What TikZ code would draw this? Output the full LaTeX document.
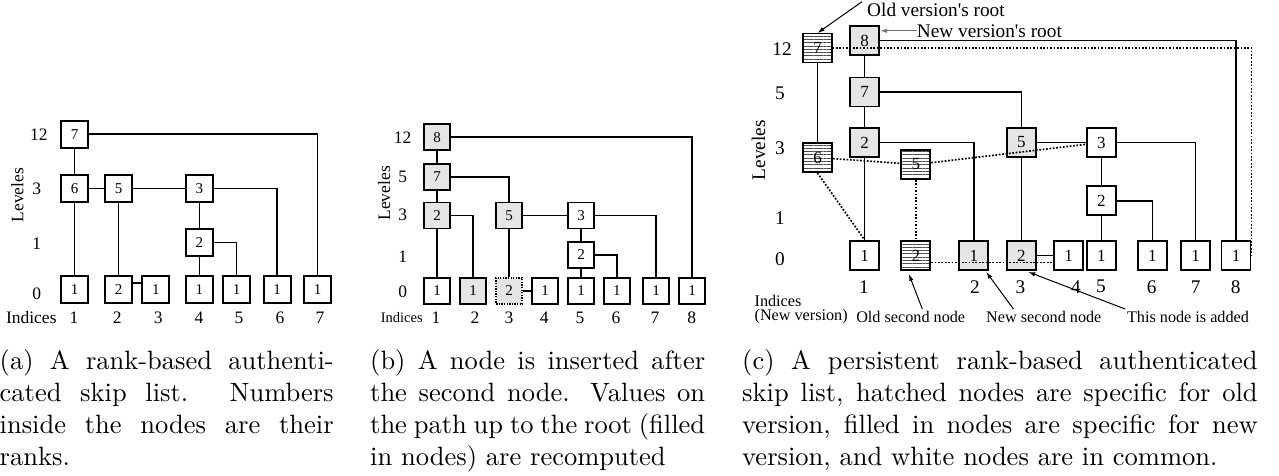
\documentclass[tikz,border=0pt]{standalone}
\usepackage{fontspec}
\newfontfamily\tms{Liberation Serif}
\newfontfamily\tmsq{Liberation Serif}[Ligatures=TeXOff]
\newfontfamily\capfont{lmroman10-regular.otf}
\usetikzlibrary{patterns.meta,arrows.meta,calc}
\definecolor{gfill}{gray}{0.9}
\definecolor{hatchc}{gray}{0.3}
\definecolor{arrgray}{gray}{0.45}
\tikzset{
  bx/.style={draw, line width=1.8pt, inner sep=0pt, fill=white},
  bxA/.style={bx, minimum size=27pt, font=\tms\fontsize{15}{15}\selectfont},
  bxB/.style={bx, minimum size=26pt, font=\tms\fontsize{15}{15}\selectfont},
  bxC/.style={bx, minimum size=29pt, line width=1.9pt, font=\tms\fontsize{17}{17}\selectfont},
  filled/.style={fill=gfill},
  hatched/.style={pattern={Lines[angle=0,distance=3.3pt,line width=1pt]}, pattern color=hatchc},
  dotbox/.style={dash pattern=on 1.3pt off 1.3pt},
  ln/.style={line width=1.5pt},
  olddash/.style={line width=1.7pt, dash pattern=on 1.7pt off 1.7pt},
  lvl/.style={inner sep=0pt, font=\tms\fontsize{17.5}{17.5}\selectfont},
  lvlC/.style={inner sep=0pt, font=\tms\fontsize{19.3}{19.3}\selectfont},
  small/.style={inner sep=0pt, font=\tms\fontsize{14.5}{14.5}\selectfont},
  ann/.style={inner sep=0pt, font=\tms\fontsize{16.2}{16.2}\selectfont},
  annbig/.style={inner sep=0pt, font=\tmsq\fontsize{19.3}{19.3}\selectfont},
  arr/.style={line width=1pt, -{Latex[length=7pt,width=4.5pt]}},
  captxt/.style={inner sep=0pt, anchor=base west, font=\capfont\fontsize{26.5}{31.9}\selectfont}
}
\begin{document}
\begin{tikzpicture}[x=1pt,y=-1pt]
\useasboundingbox (0,0) rectangle (1279,475);

% ---------------- Panel (a) ----------------
\node[bxA] (a12) at (74.7,134.2) {7};
\node[bxA] (a31) at (74.7,188.5) {6};
\node[bxA] (a32) at (118.7,188.5) {5};
\node[bxA] (a34) at (199.3,188.5) {3};
\node[bxA] (a14) at (199.3,242.5) {2};
\node[bxA] (a01) at (74.7,289.8) {1};
\node[bxA] (a02) at (118.7,289.8) {2};
\node[bxA] (a03) at (155.8,289.8) {1};
\node[bxA] (a04) at (199.3,289.8) {1};
\node[bxA] (a05) at (236.7,289.8) {1};
\node[bxA] (a06) at (277.2,289.8) {1};
\node[bxA] (a07) at (317.7,289.8) {1};
\draw[ln] (a12)--(a31) (a31)--(a32) (a32)--(a34) (a31)--(a01) (a32)--(a02)
          (a34)--(a14) (a14)--(a04);
\draw[ln] ($(a02.east)+(0,-7)$) -- ($(a03.west)+(0,-7)$);
\draw[ln] (a12.east) -| (a07.north);
\draw[ln] (a34.east) -| (a06.north);
\draw[ln] (a14.east) -| (a05.north);
\node[lvl] (al12) at (38.8,135) {12};
\node[lvl] (al3) at (36.7,188.8) {3};
\node[lvl] (al1) at (36.7,243.3) {1};
\node[lvl] (al0) at (36.7,293.7) {0};
\node[lvl, rotate=90, anchor=base] (alev) at (23.3,195) {Leveles};
\node[lvl] (aind) at (31.3,317.8) {Indices};
\node[lvl] (ai1) at (74,317.8) {1};
\node[lvl] (ai2) at (117.3,317.8) {2};
\node[lvl] (ai3) at (158.3,317.8) {3};
\node[lvl] (ai4) at (199,317.8) {4};
\node[lvl] (ai5) at (239,317.8) {5};
\node[lvl] (ai6) at (280,317.8) {6};
\node[lvl] (ai7) at (320,317.8) {7};
\node[captxt] (capa) at (-0.5,369.5) {\parbox[t]{334pt}{(a) A rank-based authenti-\linebreak cated skip list.  Numbers\linebreak inside the nodes are their\linebreak ranks.}};

% ---------------- Panel (b) ----------------
\node[bxB, filled] (b12) at (437.2,137.2) {8};
\node[bxB, filled] (b5) at (437.2,176.8) {7};
\node[bxB, filled] (b31) at (437.2,215.5) {2};
\node[bxB, filled] (b33) at (509.2,215.5) {5};
\node[bxB] (b35) at (581.2,215.5) {3};
\node[bxB] (b15) at (581.2,254.8) {2};
\node[bxB] (b01) at (437.2,290.8) {1};
\node[bxB, filled] (b02) at (473,290.8) {1};
\node[bxB, filled, dotbox] (b03) at (509.2,290.8) {2};
\node[bxB] (b04) at (545.2,290.8) {1};
\node[bxB] (b05) at (581.2,290.8) {1};
\node[bxB] (b06) at (616.8,290.8) {1};
\node[bxB] (b07) at (656.2,290.8) {1};
\node[bxB] (b08) at (692.2,290.8) {1};
\draw[ln] (b12)--(b5) (b5)--(b31) (b31)--(b01) (b33)--(b35) (b33)--(b03)
          (b35)--(b15) (b15)--(b05) (b03)--(b04);
\draw[ln] (b12.east) -| (b08.north);
\draw[ln] (b5.east) -| (b33.north);
\draw[ln] (b31.east) -| (b02.north);
\draw[ln] (b35.east) -| (b07.north);
\draw[ln] (b15.east) -| (b06.north);
\node[lvl] (bl12) at (402.6,137.8) {12};
\node[lvl] (bl5) at (402.8,177) {5};
\node[lvl] (bl3) at (402.8,215) {3};
\node[lvl] (bl1) at (402.8,256.7) {1};
\node[lvl] (bl0) at (402.8,291.7) {0};
\node[lvl, rotate=90, anchor=base] (blev) at (390,193.3) {Leveles};
\node[small] (bind) at (401.7,317.2) {Indices};
\node[lvl] (bi1) at (436,317.8) {1};
\node[lvl] (bi2) at (475,317.8) {2};
\node[lvl] (bi3) at (509,317.8) {3};
\node[lvl] (bi4) at (544.3,317.8) {4};
\node[lvl] (bi5) at (580,317.8) {5};
\node[lvl] (bi6) at (616,317.8) {6};
\node[lvl] (bi7) at (655,317.8) {7};
\node[lvl] (bi8) at (691.7,317.8) {8};
\node[captxt] (capb) at (370,369.5) {\parbox[t]{335pt}{(b) A node is inserted after\linebreak the second node.  Values on\linebreak the path up to the root (filled\linebreak in nodes) are recomputed}};

% ---------------- Panel (c) ----------------
\node[bxC, hatched] (co7) at (817.5,48) {7};
\node[bxC, hatched] (co6) at (817.5,157.5) {6};
\node[bxC, hatched] (co5) at (915.8,164.5) {5};
\node[bxC, hatched] (co2) at (915.8,255.5) {2};
\node[bxC, filled] (cn8) at (864.7,40.7) {8};
\node[bxC, filled] (cn7) at (864.7,92) {7};
\node[bxC, filled] (cn2) at (864.7,142.5) {2};
\node[bxC, filled] (c33) at (1021.3,142.5) {5};
\node[bxC] (c35) at (1101.3,142.5) {3};
\node[bxC] (c15) at (1101.3,200.8) {2};
\node[bxC] (c01) at (864.7,255.5) {1};
\node[bxC, filled] (c02) at (973.8,255.5) {1};
\node[bxC, filled] (c03) at (1021.3,255.5) {2};
\node[bxC] (c04) at (1068.7,255.5) {1};
\node[bxC] (c05) at (1101.3,255.5) {1};
\node[bxC] (c06) at (1152.3,255.5) {1};
\node[bxC] (c07) at (1195.7,255.5) {1};
\node[bxC] (c08) at (1236,255.5) {1};
% solid (new version / common)
\draw[ln] (co7)--(co6) (cn8)--(cn7) (cn7)--(cn2) (cn2)--(c01) (c33)--(c35) (c33)--(c03)
          (c35)--(c15) (c15)--(c05) (c03)--(c04);
\draw[ln] (cn8.east) -| (c08.north);
\draw[ln] (cn7.east) -| (c33.north);
\draw[ln] (cn2.east) -| (c02.north);
\draw[ln] (c35.east) -| (c07.north);
\draw[ln] (c15.east) -| (c06.north);
% dotted (old version)
\draw[olddash] (co7.east) -| (c08.east);
\draw[olddash] (co6) -- (co5);
\draw[olddash] (co5) -- (c35);
\draw[olddash] (co6.south) -- (c01.north);
\draw[olddash] (co5) -- (co2);
\draw[olddash] ($(co2.east)+(0,7)$) -- ($(c04.west)+(0,7)$);
% labels
\node[lvlC] (cl12) at (782,49.3) {12};
\node[lvlC] (cl5) at (780,93.3) {5};
\node[lvlC] (cl3) at (780,148.3) {3};
\node[lvlC] (cl1) at (780,218.3) {1};
\node[lvlC] (cl0) at (780,259.5) {0};
\node[lvlC, rotate=90, anchor=base] (clev) at (765,150) {Leveles};
\node[lvlC] (ci1) at (864,286.7) {1};
\node[lvlC] (ci2) at (975,286.7) {2};
\node[lvlC] (ci3) at (1020.5,286.7) {3};
\node[lvlC] (ci4) at (1076,286.7) {4};
\node[lvlC] (ci5) at (1101,286.7) {5};
\node[lvlC] (ci6) at (1151.7,286.7) {6};
\node[lvlC] (ci7) at (1195.7,286.7) {7};
\node[lvlC] (ci8) at (1235.7,286.7) {8};
\node[ann, anchor=west] (cind) at (754.4,300.5) {Indices};
\node[ann, anchor=west] (cnv) at (754.4,317) {(New version)};
% annotations
\node[annbig, anchor=west] (oldroot) at (867,10) {Old version's root};
\node[annbig, anchor=west] (newroot) at (916.7,30.8) {New version's root};
\node[ann] (oldsec) at (910.7,317) {Old second node};
\node[ann] (newsec) at (1043.8,317) {New second node};
\node[ann] (added) at (1188,317) {This node is added};
\coordinate (oldrootA) at (862,1.7);
\coordinate (oldsecA) at (922.3,309);
\coordinate (newsecA) at (1013.4,309);
\coordinate (addedA) at (1125.1,309);
\draw[arr] (oldrootA) -- (co7.north);
\draw[arr, arrgray] (newroot.west) -- (cn8.north east |- newroot.west);
\draw[arr] (oldsecA) -- ($(co2.south)+(-7,3)$);
\draw[arr] (newsecA) -- ($(c02.south east)+(-3,1)$);
\draw[arr] (addedA) -- ($(c03.south)+(7,1)$);
\node[captxt] (capc) at (742,369.5) {\parbox[t]{515.5pt}{(c) A persistent rank-based authenticated\linebreak skip list, hatched nodes are specific for old\linebreak version, filled in nodes are specific for new\linebreak version, and white nodes are in common.}};
\end{tikzpicture}
\end{document}
